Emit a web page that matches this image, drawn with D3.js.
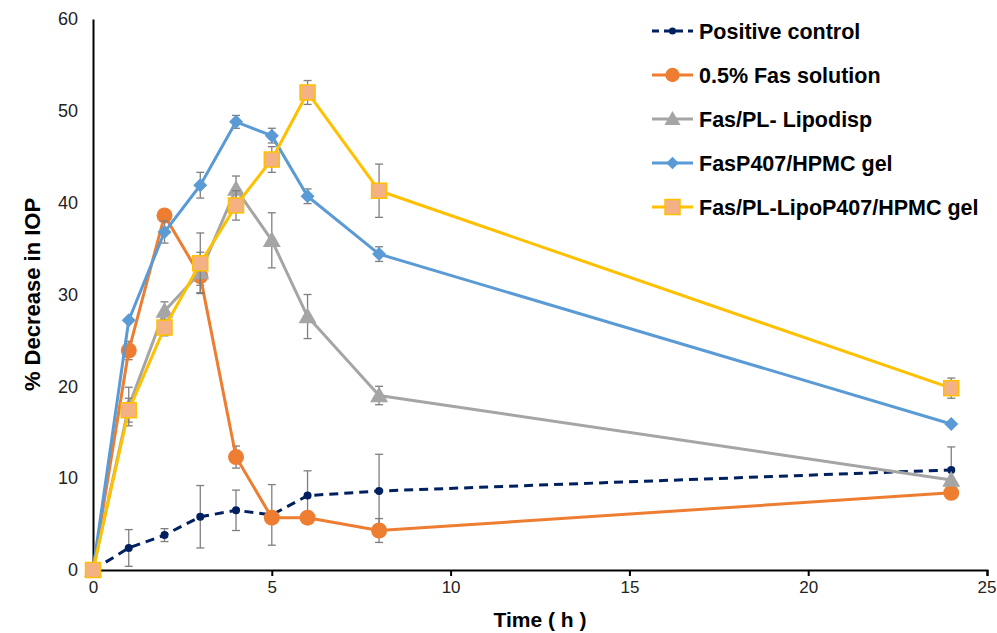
<!DOCTYPE html>
<html>
<head>
<meta charset="utf-8">
<script src="https://cdn.jsdelivr.net/npm/d3@7"></script>
<style>
  html, body { margin: 0; padding: 0; background: #fff; }
  svg { display: block; font-family: "Liberation Sans", Arial, sans-serif; }
</style>
</head>
<body>
<svg id="chart" width="997" height="633"></svg>
<script>
// Time points (h)
const times = [0, 1, 2, 3, 4, 5, 6, 8, 24];

// Series names (legend order)
const seriesNames = [
  "Positive control",
  "0.5% Fas solution",
  "Fas/PL- Lipodisp",
  "FasP407/HPMC gel",
  "Fas/PL-LipoP407/HPMC gel"
];

// % decrease in IOP, mean values
const positiveControl = [0, 2.4, 3.8, 5.8, 6.5, 6.0, 8.1, 8.6, 10.9];
const fasSolution     = [0, 23.9, 38.6, 32.0, 12.3, 5.7, 5.7, 4.3, 8.4];
const lipodisp        = [0, 17.8, 28.2, 32.4, 41.5, 35.9, 27.6, 19.0, 9.8];
const p407Gel         = [0, 27.2, 36.8, 41.9, 48.8, 47.3, 40.7, 34.4, 15.9];
const lipoP407Gel     = [0, 17.4, 26.4, 33.4, 39.7, 44.7, 52.0, 41.3, 19.8];

// Error bar half-widths (SD)
const positiveControlErr = [0, 2.0, 0.7, 3.4, 2.2, 3.3, 2.7, 4.0, 2.5];
const fasSolutionErr     = [0, 1.0, 0.6, 1.0, 1.2, 0, 0, 1.3, 0];
const lipodispErr        = [0, 2.1, 1.0, 2.2, 1.4, 3.0, 2.4, 1.0, 0];
const p407GelErr         = [0, 0, 1.2, 1.4, 0.7, 0.8, 0.8, 0.8, 0];
const lipoP407GelErr     = [0, 1.3, 0.9, 3.3, 1.6, 1.4, 1.3, 2.9, 1.1];

// Axis ticks
const xTicks = [0, 5, 10, 15, 20, 25];
const yTicks = [0, 10, 20, 30, 40, 50, 60];

const series = [
  { name: seriesNames[0], values: positiveControl, err: positiveControlErr,
    color: "#002060", fill: "#002060", marker: "smallCircle", dash: "9,6" },
  { name: seriesNames[1], values: fasSolution, err: fasSolutionErr,
    color: "#ED7D31", fill: "#ED7D31", marker: "circle" },
  { name: seriesNames[2], values: lipodisp, err: lipodispErr,
    color: "#A5A5A5", fill: "#A5A5A5", marker: "triangle" },
  { name: seriesNames[3], values: p407Gel, err: p407GelErr,
    color: "#5B9BD5", fill: "#5B9BD5", marker: "diamond" },
  { name: seriesNames[4], values: lipoP407Gel, err: lipoP407GelErr,
    color: "#FFC000", fill: "#F4B183", marker: "square" }
];

const svg = d3.select("#chart");
const margin = { left: 93, right: 10, top: 19, bottom: 63 };
const W = 997, H = 633;

const x = d3.scaleLinear().domain([0, 25]).range([margin.left, W - margin.right]);
const y = d3.scaleLinear().domain([0, 60]).range([H - margin.bottom, margin.top]);

// Axes
const xAxis = svg.append("g")
  .attr("transform", `translate(0,${y(0)})`)
  .call(d3.axisBottom(x).tickValues(xTicks).tickSize(6).tickPadding(5));
xAxis.select(".domain").attr("stroke", "#000").attr("stroke-width", 2);
xAxis.selectAll(".tick line").attr("stroke", "#000").attr("stroke-width", 2);
xAxis.selectAll(".tick text").attr("font-size", 17).attr("fill", "#222")
  .attr("font-family", "Liberation Sans, Arial, sans-serif");
// keep the last tick label inside the canvas
xAxis.selectAll(".tick text").filter(d => d === 25).attr("text-anchor", "end").attr("x", 9);

const yAxis = svg.append("g")
  .attr("transform", `translate(${x(0)},0)`)
  .call(d3.axisLeft(y).tickValues(yTicks).tickSize(0).tickPadding(15));
yAxis.select(".domain").attr("stroke", "#000").attr("stroke-width", 2);
yAxis.selectAll(".tick text").attr("font-size", 18).attr("fill", "#222")
  .attr("font-family", "Liberation Sans, Arial, sans-serif");

// Axis titles
svg.append("text")
  .attr("x", (x(0) + x(25)) / 2).attr("y", 627)
  .attr("text-anchor", "middle")
  .attr("font-size", 21).attr("font-weight", "bold")
  .text("Time ( h )");

svg.append("text")
  .attr("transform", `translate(40,${(y(0) + y(60)) / 2}) rotate(-90)`)
  .attr("text-anchor", "middle")
  .attr("font-size", 22).attr("font-weight", "bold")
  .text("% Decrease in IOP");

// Marker drawing
function drawMarker(g, s, cx, cy, scale = 1) {
  switch (s.marker) {
    case "smallCircle":
      g.append("circle").attr("cx", cx).attr("cy", cy).attr("r", 4 * scale)
        .attr("fill", s.fill);
      break;
    case "circle":
      g.append("circle").attr("cx", cx).attr("cy", cy).attr("r", 8 * scale)
        .attr("fill", s.fill);
      break;
    case "triangle": {
      const r = 9 * scale;
      g.append("path")
        .attr("d", `M${cx},${cy - r}L${cx + r},${cy + r * 0.75}L${cx - r},${cy + r * 0.75}Z`)
        .attr("fill", s.fill);
      break;
    }
    case "diamond": {
      const r = 7 * scale;
      g.append("path")
        .attr("d", `M${cx},${cy - r}L${cx + r},${cy}L${cx},${cy + r}L${cx - r},${cy}Z`)
        .attr("fill", s.fill);
      break;
    }
    case "square": {
      const h = 7.5 * scale;
      g.append("rect").attr("x", cx - h).attr("y", cy - h)
        .attr("width", 2 * h).attr("height", 2 * h)
        .attr("fill", s.fill).attr("stroke", s.color).attr("stroke-width", 1.5);
      break;
    }
  }
}

const line = d3.line().x(d => x(d[0])).y(d => y(d[1]));

series.forEach(s => {
  const g = svg.append("g");
  const pts = times.map((t, i) => [t, s.values[i], s.err[i]]);

  // Error bars
  pts.filter(p => p[2] > 0).forEach(p => {
    const cx = x(p[0]), y1 = y(p[1] + p[2]), y2 = y(p[1] - p[2]);
    g.append("line").attr("x1", cx).attr("x2", cx).attr("y1", y1).attr("y2", y2)
      .attr("stroke", "#7F7F7F").attr("stroke-width", 1.3);
    [y1, y2].forEach(yy => g.append("line")
      .attr("x1", cx - 4).attr("x2", cx + 4).attr("y1", yy).attr("y2", yy)
      .attr("stroke", "#7F7F7F").attr("stroke-width", 1.3));
  });

  // Line
  g.append("path").datum(pts).attr("d", line)
    .attr("fill", "none").attr("stroke", s.color).attr("stroke-width", 3)
    .attr("stroke-dasharray", s.dash || null)
    .attr("stroke-linejoin", "round");

  // Markers
  pts.forEach(p => drawMarker(g, s, x(p[0]), y(p[1])));
});

// Legend
const legend = svg.append("g").attr("transform", "translate(652,31)");
series.forEach((s, i) => {
  const row = legend.append("g").attr("transform", `translate(0,${i * 44})`);
  row.append("line").attr("x1", 0).attr("x2", 41).attr("y1", 0).attr("y2", 0)
    .attr("stroke", s.color).attr("stroke-width", 3)
    .attr("stroke-dasharray", s.dash ? "7,5" : null);
  drawMarker(row, s, 20.5, 0, s.marker === "square" ? 1 : 0.9);
  row.append("text").attr("x", 47).attr("y", 0).attr("dy", "0.36em")
    .attr("font-size", 21.5).attr("font-weight", "bold").attr("fill", "#000")
    .text(s.name);
});
</script>
</body>
</html>
